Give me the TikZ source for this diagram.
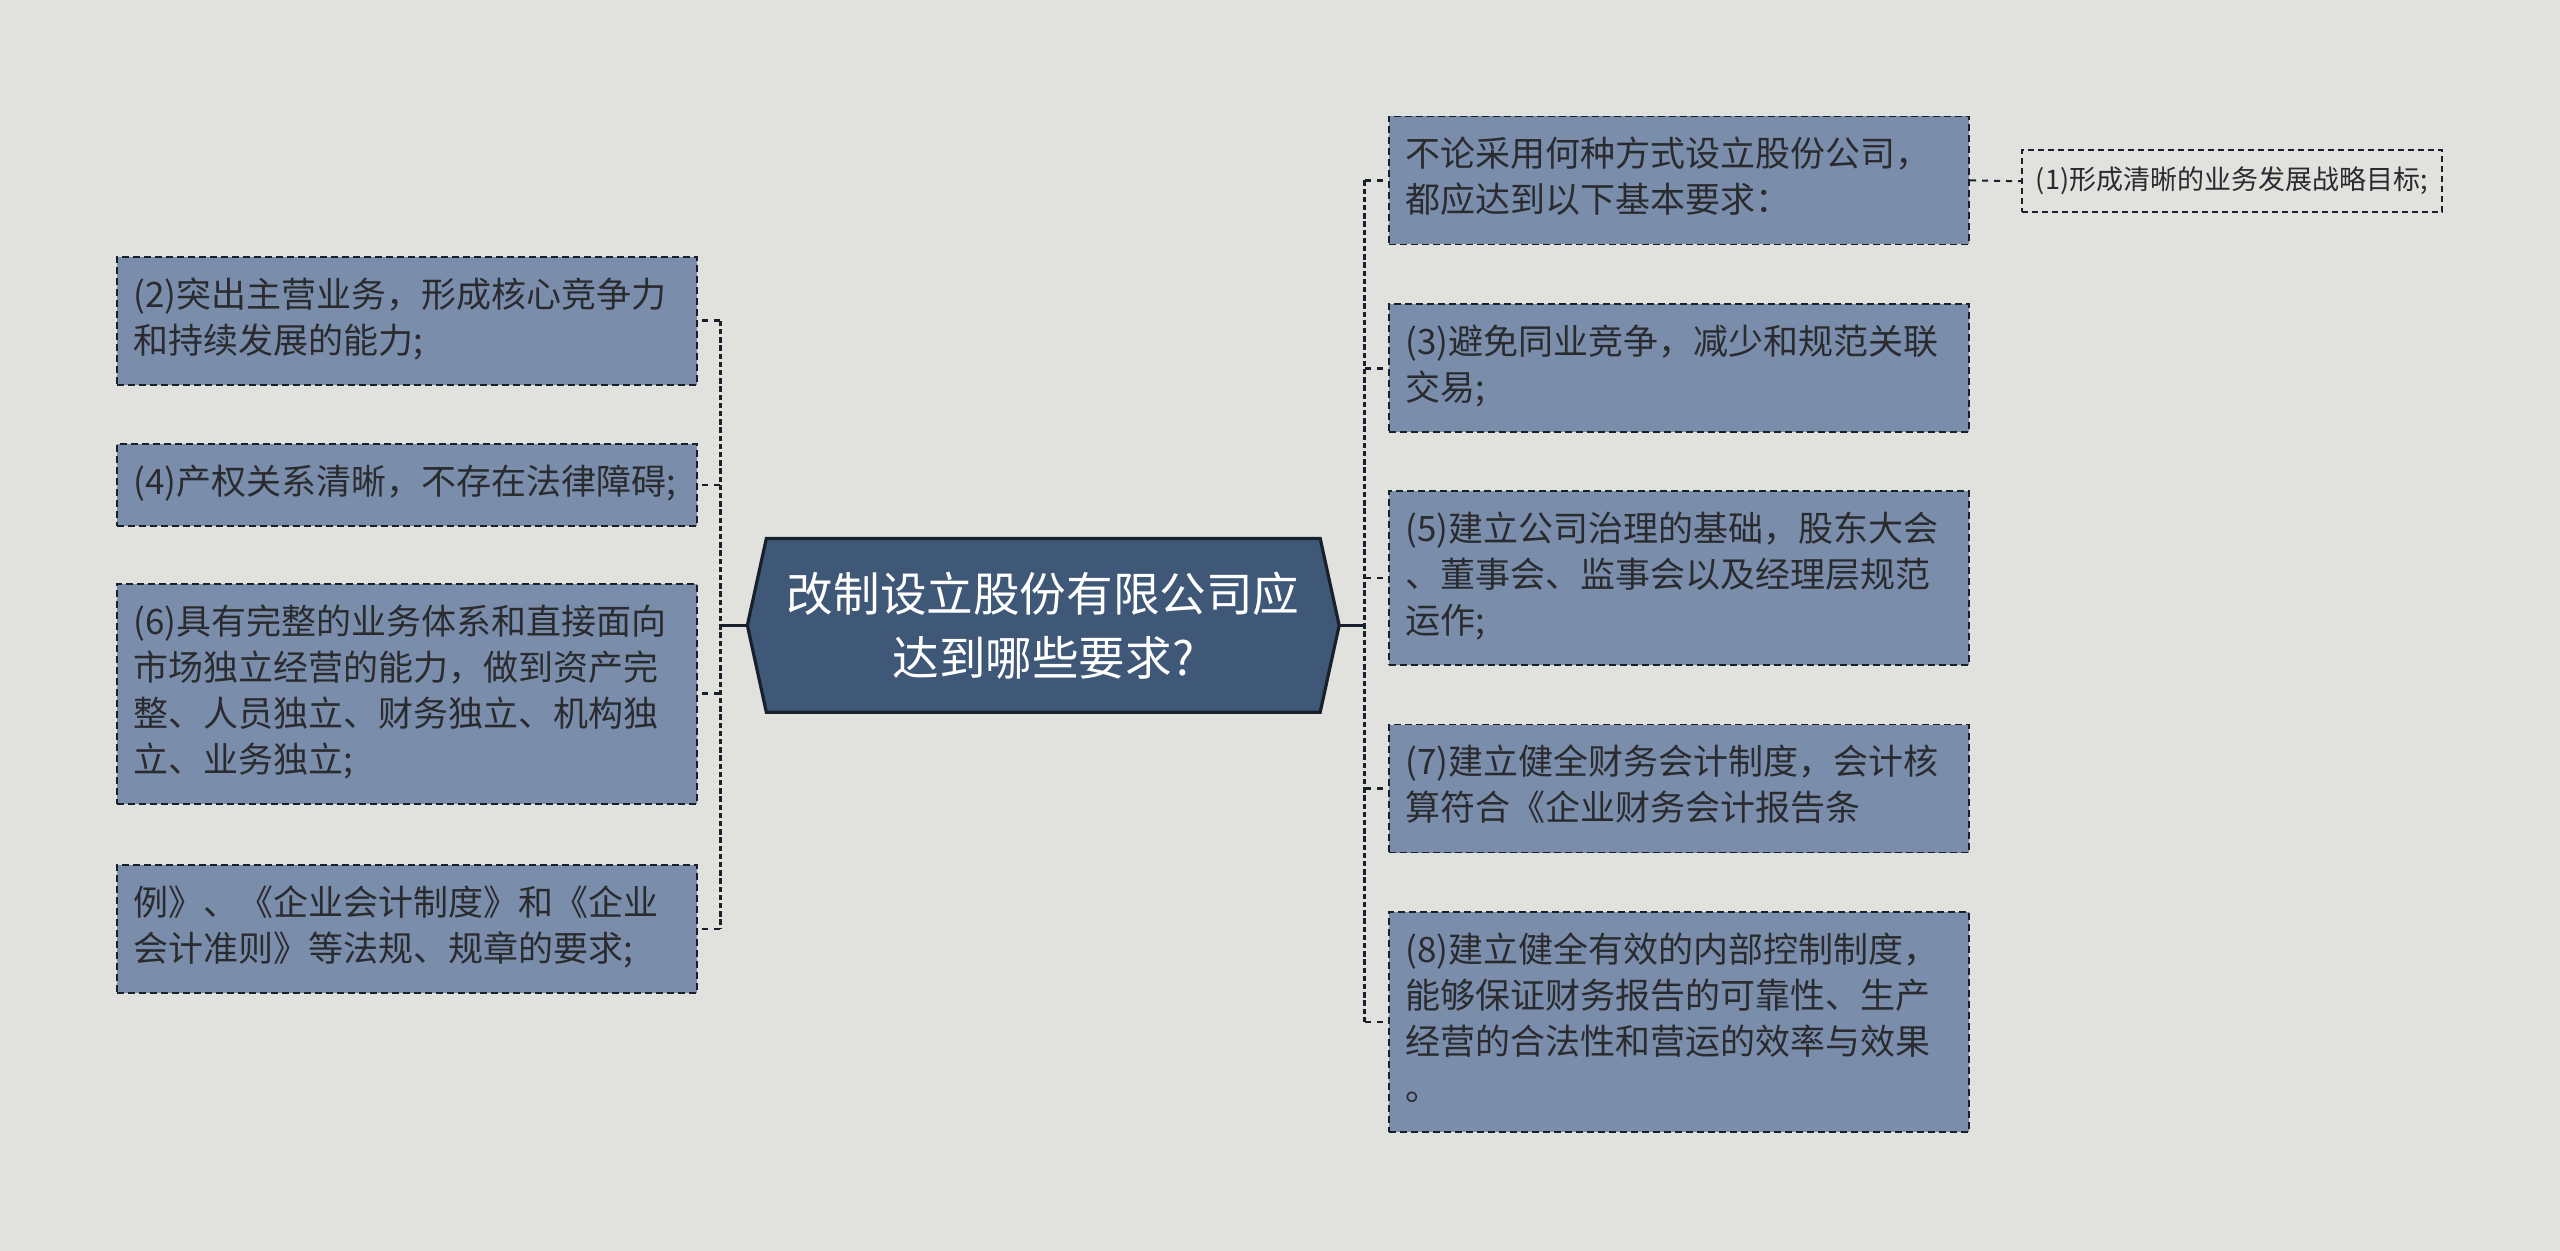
\documentclass[tikz,border=0pt]{standalone}
\usepackage{fontspec}
\setmainfont{Noto Sans CJK SC}
\usepackage{tikz}
\usetikzlibrary{calc}
\usetikzlibrary{backgrounds}
\definecolor{bgcol}{HTML}{E1E2DD}
\definecolor{boxcol}{HTML}{7A8DAB}
\definecolor{rootcol}{HTML}{405878}
\definecolor{linecol}{HTML}{18202C}
\definecolor{txtcol}{HTML}{2A2B2F}
\tikzset{
  topic/.style={draw=linecol, dash pattern=on 3.5pt off 2pt, line width=0.9pt, fill=boxcol,
    text=txtcol, text width=274pt, align=left, inner xsep=8pt, inner ysep=9pt,
    font=\fontsize{17.5}{23}\selectfont, execute at begin node=\strut, execute at end node=\strut},
  leaf/.style={draw=linecol, dash pattern=on 3pt off 2pt, line width=0.8pt, text=txtcol,
    minimum width=210pt, minimum height=31pt, inner xsep=3pt, font=\fontsize{13.5}{16}\selectfont},
  spine/.style={draw=linecol, line width=1.5pt, dash pattern=on 2.7pt off 1.4pt},
  twig/.style={draw=linecol, line width=1.4pt, dash pattern=on 3pt off 3pt},
  trunk/.style={draw=linecol, line width=1.6pt}
}
\begin{document}
\begin{tikzpicture}[x=0.8163pt,y=-0.8163pt]
    \useasboundingbox (0,0) rectangle (1568,766);
    \node (root) [minimum width=295.5pt, minimum height=86.5pt, text=white, align=center,
      font=\fontsize{23.3}{32}\selectfont] at (639,383) {改制设立股份有限公司应\\达到哪些要求?};
    \begin{scope}[on background layer]
      \fill[bgcol] (0,0) rectangle (1568,766);
      \filldraw[fill=rootcol, draw=linecol, line width=1.6pt] (root.west) -- ([xshift=9.5pt]root.north west)
        -- ([xshift=-9.5pt]root.north east) -- (root.east) -- ([xshift=-9.5pt]root.south east)
        -- ([xshift=9.5pt]root.south west) -- cycle;
    \end{scope}
    % left side
    \node (b2) [topic] at (249.5,196.5) {(2)突出主营业务，形成核心竞争力\\和持续发展的能力;};
    \node (b4) [topic] at (249.5,297) {(4)产权关系清晰，不存在法律障碍;};
    \node (b6) [topic] at (249.5,425) {(6)具有完整的业务体系和直接面向\\市场独立经营的能力，做到资产完\\整、人员独立、财务独立、机构独\\立、业务独立;};
    \node (b8) [topic] at (249.5,569) {例》、《企业会计制度》和《企业\\会计准则》等法规、规章的要求;};
    % right side
    \node (r0) [topic] at (1028.5,110.5) {不论采用何种方式设立股份公司，\\都应达到以下基本要求：};
    \node (r3) [topic] at (1028.5,225.5) {(3)避免同业竞争，减少和规范关联\\交易;};
    \node (r5) [topic] at (1028.5,354) {(5)建立公司治理的基础，股东大会\\、董事会、监事会以及经理层规范\\运作;};
    \node (r7) [topic] at (1028.5,483) {(7)建立健全财务会计制度，会计核\\算符合《企业财务会计报告条};
    \node (r8) [topic] at (1028.5,626) {(8)建立健全有效的内部控制制度，\\能够保证财务报告的可靠性、生产\\经营的合法性和营运的效率与效果\\。};
    \node (r1) [leaf] at (1367,111) {(1)形成清晰的业务发展战略目标;};
    % connectors
    \coordinate (ljoin) at (441,383);
    \coordinate (rjoin) at (836,383);
    \draw[trunk] (root.west) -- (ljoin);
    \draw[trunk] (root.east) -- (rjoin);
    \draw[spine] (ljoin |- b2.east) -- (ljoin |- b8.east);
    \draw[spine] (rjoin |- r0.west) -- (rjoin |- r8.west);
    \foreach \n in {b2,b4,b6,b8}
      \draw[twig] (ljoin |- \n.east) -- (\n.east);
    \foreach \n in {r0,r3,r5,r7,r8}
      \draw[twig] (rjoin |- \n.west) -- (\n.west);
    \draw[twig, line width=1pt] (r0.east) -- (r1.west);
\end{tikzpicture}
\end{document}
